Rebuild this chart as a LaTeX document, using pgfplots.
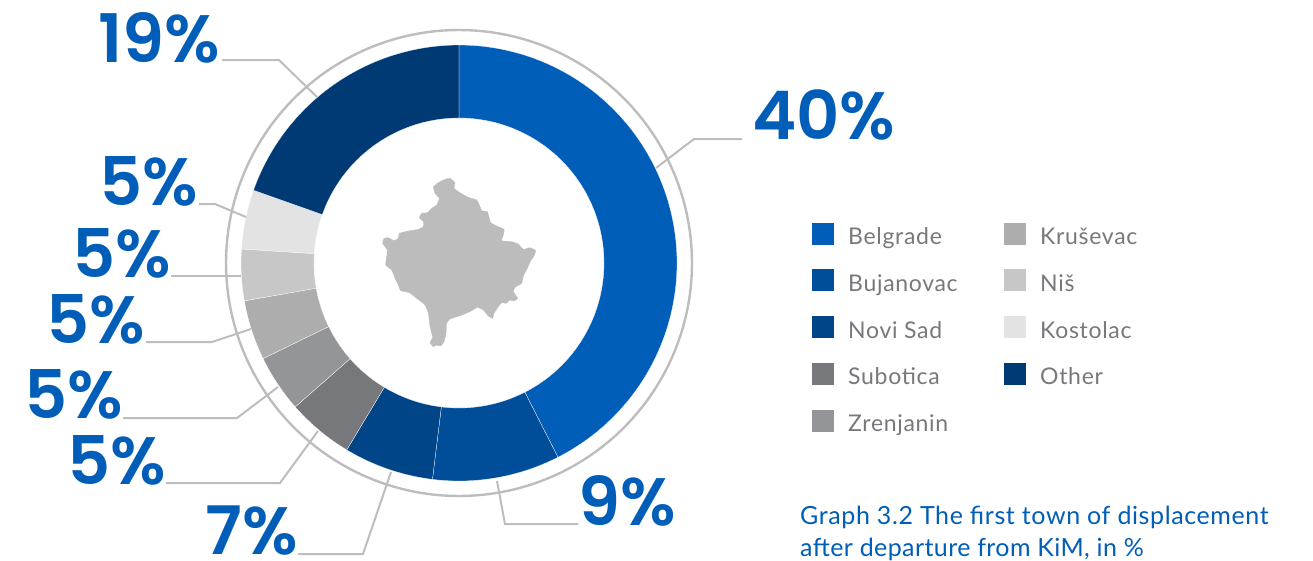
\documentclass[border=0pt]{standalone}
\usepackage{pgfplots}
\pgfplotsset{compat=1.18}
\usepackage{fontspec}
\setmainfont{Lato}
\newfontfamily\bigf{Poppins}[BoldFont={* SemiBold}]
\definecolor{cBel}{HTML}{005EB8}
\definecolor{cBuj}{HTML}{004D9A}
\definecolor{cNov}{HTML}{004588}
\definecolor{cSub}{HTML}{77787B}
\definecolor{cZre}{HTML}{939598}
\definecolor{cKru}{HTML}{ADADAD}
\definecolor{cNis}{HTML}{C7C7C7}
\definecolor{cKos}{HTML}{E3E3E3}
\definecolor{cOth}{HTML}{003A75}
\definecolor{cLead}{HTML}{BDBDBD}
\definecolor{cTxt}{HTML}{77787B}
\definecolor{cMap}{HTML}{BCBCBC}
% one ring slice: start and end angle, clockwise from the top
\newcommand\slice[3]{%
  \gdef\LL{}%
  \pgfmathtruncatemacro\NN{ceil((#2-#1)/1.5)}%
  \foreach \i in {0,...,\NN}{%
    \pgfmathsetmacro\aa{#1+(#2-#1)*\i/\NN}%
    \pgfmathsetmacro\px{459+218*sin(\aa)}%
    \pgfmathsetmacro\py{263-218*cos(\aa)}%
    \xdef\LL{\LL (\px,\py)}%
  }%
  \foreach \i in {\NN,...,0}{%
    \pgfmathsetmacro\aa{#1+(#2-#1)*\i/\NN}%
    \pgfmathsetmacro\px{459+145*sin(\aa)}%
    \pgfmathsetmacro\py{263-145*cos(\aa)}%
    \xdef\LL{\LL (\px,\py)}%
  }%
  \edef\tmp{\noexpand\addplot[fill=#3,draw=white,line width=0.25pt,forget plot] coordinates {\LL} -- cycle;}\tmp
}
\newcommand\ringline{%
  \gdef\LL{}%
  \foreach \i in {0,2,...,360}{%
    \pgfmathsetmacro\px{459+233*sin(\i)}%
    \pgfmathsetmacro\py{263-233*cos(\i)}%
    \xdef\LL{\LL (\px,\py)}%
  }%
  \edef\tmp{\noexpand\addplot[cLead,line width=2.4pt,forget plot] coordinates {\LL} -- cycle;}\tmp
}
\newcommand\biglabel[3]{\node[anchor=base east,inner sep=0pt,text=cBel,xshift=2.5pt,line width=0.7pt,draw=none] at (axis cs:#1,#2) {\smash{\bigf\fontsize{67}{67}\selectfont\bfseries #3}};}
\newcommand\legtext[3]{\node[anchor=base west,inner sep=0pt,text=cTxt] at (axis cs:#1,#2) {\fontsize{23}{23}\selectfont\addfontfeature{LetterSpace=3}#3};}
\newcommand\legbox[5]{\addplot[fill=#5,draw=none,forget plot] coordinates {(#1,#3) (#2,#3) (#2,#4) (#1,#4)} -- cycle;}
\begin{document}
\begin{tikzpicture}
\useasboundingbox (0,0) rectangle (1313pt,560pt);
\begin{axis}[
  at={(0,0)},anchor=south west,
  width=1313pt,height=560pt,scale only axis,
  xmin=0,xmax=1313,ymin=0,ymax=560,y dir=reverse,
  hide axis,clip=false]
\ringline
\slice{0}{153}{cBel}
\slice{153}{187}{cBuj}
\slice{187}{211}{cNov}
\slice{211}{228.7}{cSub}
\slice{228.7}{244}{cZre}
\slice{244}{260}{cKru}
\slice{260}{273.7}{cNis}
\slice{273.7}{289.5}{cKos}
\slice{289.5}{360}{cOth}
% leader lines
\addplot[cLead,line width=2pt,forget plot] coordinates {(742,139) (694,139) (656,168)};
\addplot[cLead,line width=2pt,forget plot] coordinates {(222,60) (279,60) (317,97)};
\addplot[cLead,line width=2pt,forget plot] coordinates {(199,204) (215,204) (246,217)};
\addplot[cLead,line width=2pt,forget plot] coordinates {(171,276) (241,276)};
\addplot[cLead,line width=2pt,forget plot] coordinates {(146,342) (212,342) (251,329)};
\addplot[cLead,line width=2pt,forget plot] coordinates {(123,418) (237,418) (278,387)};
\addplot[cLead,line width=2pt,forget plot] coordinates {(166,483) (280,483) (318,431)};
\addplot[cLead,line width=2pt,forget plot] coordinates {(298,554) (363,554) (391,472)};
\addplot[cLead,line width=2pt,forget plot] coordinates {(497,481) (505,524) (578,524)};
% map of Kosovo, traced at 3x from (370,170)
\addplot[fill=cMap,draw=cMap,line width=0.3pt,smooth,tension=0.25,forget plot]
 table[x expr=370+\thisrowno{0}/3,y expr=170+\thisrowno{1}/3] {
190 50
205 38
225 28
240 25
255 38
252 55
270 68
295 82
320 90
328 105
335 122
352 125
358 145
362 158
380 168
402 178
400 195
395 212
425 215
445 222
460 238
480 233
497 242
492 258
482 272
472 295
460 318
455 340
435 352
430 365
443 385
432 393
420 390
408 400
395 398
385 410
372 430
368 445
355 438
340 420
322 412
300 425
270 437
240 447
230 460
228 490
222 515
212 528
200 525
190 530
180 518
188 502
180 470
175 430
165 405
140 385
118 368
92 362
85 345
75 325
65 300
47 285
50 260
52 240
38 220
42 205
55 203
72 212
85 205
88 190
115 183
145 178
160 170
160 155
148 143
155 130
172 128
185 115
200 105
208 85
195 70
190 50
};
% legend
\legbox{812}{834}{223}{245}{cBel}
\legbox{812}{834}{269}{291}{cBuj}
\legbox{812}{834}{316}{338}{cNov}
\legbox{812}{834}{363}{385}{cSub}
\legbox{812}{834}{410}{432}{cZre}
\legbox{1004}{1026}{223}{245}{cKru}
\legbox{1004}{1026}{269}{291}{cNis}
\legbox{1004}{1026}{316}{338}{cKos}
\legbox{1004}{1026}{363}{385}{cOth}
\legtext{848}{244}{Belgrade}
\legtext{848}{291}{Bujanovac}
\legtext{848}{338}{Novi Sad}
\legtext{848}{384}{Subotica}
\legtext{848}{431}{Zrenjanin}
\legtext{1040}{244}{Kruševac}
\legtext{1040}{291}{Niš}
\legtext{1040}{338}{Kostolac}
\legtext{1040}{384}{Other}
% big labels
\biglabel{218}{62}{19\%}
\biglabel{893}{139}{40\%}
\biglabel{196}{205}{5\%}
\biglabel{169}{277}{5\%}
\biglabel{143}{343}{5\%}
\biglabel{121}{418}{5\%}
\biglabel{164}{484}{5\%}
\biglabel{296}{554}{7\%}
\biglabel{674}{525}{9\%}
% caption
\node[anchor=base west,inner sep=0pt,text=cBel] at (axis cs:800,524) {\fontsize{25}{25}\selectfont\addfontfeature{LetterSpace=2.4}Graph 3.2 The first town of displacement};
\node[anchor=base west,inner sep=0pt,text=cBel] at (axis cs:800,556) {\fontsize{25}{25}\selectfont\addfontfeature{LetterSpace=1.6}after departure from KiM, in \%};
\end{axis}
\end{tikzpicture}
\end{document}
